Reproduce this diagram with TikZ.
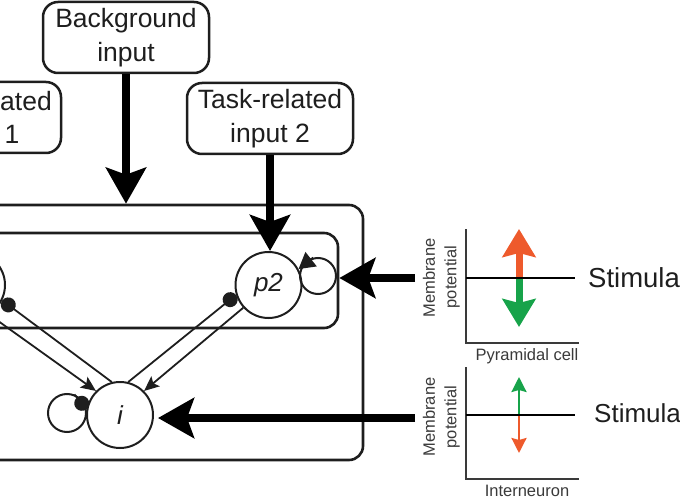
\documentclass[tikz,border=0pt]{standalone}
\usepackage{fontspec}
\setmainfont{Liberation Sans}
\usetikzlibrary{arrows.meta}
\definecolor{upred}{HTML}{EE5A2C}
\definecolor{downgreen}{HTML}{17A34A}
\definecolor{ink}{HTML}{1E1E1E}
\definecolor{axisgray}{HTML}{3A3A3A}

\begin{document}
\begin{tikzpicture}[x=1pt, y=-1pt,
  inputbox/.style={draw=ink, line width=2.5pt, rounded corners=15pt, align=center,
    inner sep=0pt, minimum width=166pt, minimum height=71pt,
    font=\fontsize{26.5}{34}\selectfont, text=ink},
  boxtext/.style={font=\fontsize{26.5}{34}\selectfont, text=ink, inner sep=0pt},
  region/.style={draw=ink, line width=2.6pt, rounded corners=14pt, inner sep=0pt},
  cell/.style={circle, draw=ink, line width=2pt, minimum size=66pt, inner sep=0pt,
    font=\fontsize{26}{26}\selectfont\itshape, text=ink},
  loopcell/.style={circle, draw=ink, line width=2pt, inner sep=0pt},
  drive/.style={draw=black, line width=8.5pt, -{Stealth[length=36pt,width=40pt,inset=7pt]}},
  excite/.style={draw=ink, line width=1.8pt, -{Stealth[length=15pt,width=13pt,inset=3pt]}},
  selfexcite/.style={draw=ink, line width=1.8pt, -{Triangle[length=16pt,width=18pt]}},
  inhibit/.style={draw=ink, line width=1.8pt, -{Circle[length=15pt]}},
  axis/.style={draw=axisgray, line width=2.6pt},
  rest/.style={draw=black, line width=2.6pt},
  small/.style={font=\fontsize{16.5}{18}\selectfont, text=axisgray, inner sep=0pt},
  stim/.style={font=\fontsize{27.5}{30}\selectfont, text=ink, anchor=west, inner sep=0pt},
]
\useasboundingbox (0,0) rectangle (680,500);
\clip (0,0) rectangle (680,500);

% network regions
\node[region, minimum width=663pt, minimum height=255pt] (outer) at (31.5,332.5) {};
\node[region, minimum width=588pt, minimum height=95pt] (inner) at (44,280.5) {};

% inputs
\node[inputbox] (bg) at (126,37.5) {Background\\input};
\node[inputbox] (t1) at (-22,117.5) {};
\node[boxtext, anchor=base east] (t1a) at (52,111) {ated};
\node[boxtext, anchor=base] (t1b) at (12,143) {1};
\node[inputbox] (t2) at (270,118.5) {Task-related\\input 2};

% cells
\node[cell] (p1) at (-28,285) {};
\node[cell] (p2) at (268.5,285) {p2};
\node[cell] (i) at (120,415) {i};
\node[loopcell, minimum size=36pt] (p2loop) at (318,276) {};
\node[loopcell, minimum size=38pt] (iloop) at (67,413) {};

% external drives
\draw[drive] (bg.south) -- (bg.south |- outer.north);
\draw[drive] (t2.south) -- (t2.south |- p2.north);
\coordinate (stimP) at (415,278);
\coordinate (stimI) at (415,418);
\draw[drive] (stimP) -- (stimP -| inner.east);
\draw[drive, shorten >=4pt] (stimI) -- (stimI -| i.east);

% recurrent connections
\draw[inhibit] (i.76) -- (p2.197);
\draw[excite] (p2.222) -- (i.45);
\draw[inhibit] (i.104) -- (p1.333);
\draw[excite] (p1.300) -- (i.135);
\draw[selfexcite] (p2loop.105) -- (p2.28);
\draw[inhibit] (iloop.68) -- (i.170);

% membrane potential, pyramidal cell
\draw[axis] (466,229) -- (466,343) -- (579,343);
\draw[upred, line width=7pt, -{Stealth[length=28pt,width=33pt,inset=4pt]}] (519,278) -- (519,229);
\draw[downgreen, line width=7pt, -{Stealth[length=28pt,width=33pt,inset=4pt]}] (519,278) -- (519,327);
\draw[rest] (466,278) -- (575,278);
\node[small, rotate=90] (memP) at (429,278) {Membrane};
\node[small, rotate=90] (potP) at (452,277) {potential};
\node[small] (capP) at (527,356) {Pyramidal cell};
\node[stim] (stimTextP) at (588,278) {Stimula};

% membrane potential, interneuron
\draw[axis] (466,367) -- (466,479) -- (579,479);
\draw[downgreen, line width=2.5pt, -{Stealth[length=15pt,width=15pt,inset=2pt]}] (519,415) -- (519,377);
\draw[upred, line width=2.5pt, -{Stealth[length=15pt,width=15pt,inset=2pt]}] (519,415) -- (519,453);
\draw[rest] (466,415) -- (575,415);
\node[small, rotate=90] (memI) at (429,417) {Membrane};
\node[small, rotate=90] (potI) at (452,417) {potential};
\node[small] (capI) at (527,491) {Interneuron};
\node[stim, font=\fontsize{26}{30}\selectfont] (stimTextI) at (594,413) {Stimula};
\end{tikzpicture}
\end{document}
